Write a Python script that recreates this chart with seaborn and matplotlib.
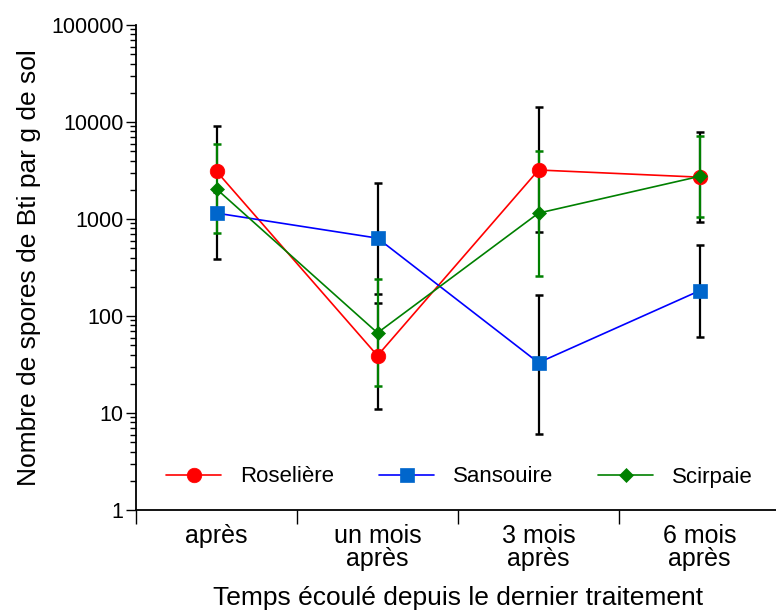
import numpy as np
import pandas as pd
import matplotlib
matplotlib.use("Agg")
import matplotlib.pyplot as plt
import seaborn as sns
from matplotlib.ticker import FixedLocator, NullFormatter, FuncFormatter

# ---- data ----
categories = ["après", "un mois\naprès", "3 mois\naprès", "6 mois\naprès"]
series_names = ["Roselière", "Sansouire", "Scirpaie"]

roseliere = [3100, 39, 3200, 2700]
sansouire = [1150, 635, 33, 182]
scirpaie = [2040, 67, 1150, 2750]

roseliere_low = [3100, 11, 730, 925]
roseliere_high = [9000, 135, 14400, 7950]
sansouire_low = [390, 167, 6.1, 61]
sansouire_high = [1900, 2370, 165, 540]
scirpaie_low = [720, 19, 258, 1060]
scirpaie_high = [5900, 239, 5020, 7230]

y_ticks = [1, 10, 100, 1000, 10000, 100000]

# ---- style ----
sns.set_style("ticks")
plt.rcParams["font.family"] = ["Liberation Sans", "DejaVu Sans"]
plt.rcParams["text.color"] = "black"
plt.rcParams["axes.labelcolor"] = "black"
plt.rcParams["xtick.color"] = "black"
plt.rcParams["ytick.color"] = "black"

fig = plt.figure(figsize=(7.76, 6.12), dpi=100)
ax = fig.add_axes([136 / 776, 1 - 510 / 612, 644 / 776, 485 / 612])

pos = np.arange(len(categories))
values = [roseliere, sansouire, scirpaie]
lows = [roseliere_low, sansouire_low, scirpaie_low]
highs = [roseliere_high, sansouire_high, scirpaie_high]
line_colors = ["#FF0000", "#0000FF", "#008000"]
face_colors = ["#FF0000", "#0066CC", "#008000"]
err_colors = ["black", "black", "#008000"]
markers = ["o", "s", "D"]
msizes = [10.5, 10.5, 7.3]

# error bars first
for v, lo, hi, ec in zip(values, lows, highs, err_colors):
    v = np.array(v, dtype=float)
    lo = np.array(lo, dtype=float)
    hi = np.array(hi, dtype=float)
    ax.errorbar(pos, v, yerr=[v - lo, hi - v], fmt="none", ecolor=ec,
                elinewidth=1.6, capsize=3.0, capthick=1.8, zorder=2)

handles = []
for name, v, lc, fc, mk, ms in zip(series_names, values, line_colors,
                                   face_colors, markers, msizes):
    df = pd.DataFrame({"pos": pos, "val": v})
    sns.lineplot(data=df, x="pos", y="val", ax=ax, color=lc, linewidth=1.2,
                 marker=mk, markersize=ms, markerfacecolor=fc,
                 markeredgecolor=fc, markeredgewidth=0.5, label=name,
                 legend=False, zorder=3)
    handles.append(ax.lines[-1])

# ---- axes ----
ax.set_yscale("log")
ax.set_ylim(1, 100000)
ax.set_xlim(-0.5, 3.5)
ax.yaxis.set_major_locator(FixedLocator(y_ticks))
ax.yaxis.set_major_formatter(FuncFormatter(lambda y, p: f"{int(round(y))}"))
minor = [m * 10 ** e for e in range(0, 5) for m in range(2, 10)]
ax.yaxis.set_minor_locator(FixedLocator(minor))
ax.yaxis.set_minor_formatter(NullFormatter())

ax.set_xticks([-0.5, 0.5, 1.5, 2.5])
ax.set_xticklabels([])
ax.set_xticks(pos, labels=categories, minor=True)
for lbl in ax.get_xticklabels(minor=True):
    lbl.set_linespacing(0.95)
    lbl.set_fontsize(18)
    lbl.set_color("black")

ax.tick_params(axis="x", which="major", length=10, width=1.0, direction="out",
               color="black")
ax.tick_params(axis="x", which="minor", length=0, pad=10)
ax.tick_params(axis="y", which="major", length=7, width=1.0, labelsize=15.5,
               color="black", labelcolor="black", pad=2)
ax.tick_params(axis="y", which="minor", length=4, width=1.0, color="black")

for s in ["top", "right"]:
    ax.spines[s].set_visible(False)
for s in ["left", "bottom"]:
    ax.spines[s].set_linewidth(1.3)
    ax.spines[s].set_color("black")

ax.set_xlabel("Temps écoulé depuis le dernier traitement", fontsize=19,
              labelpad=11, color="black")
ax.set_ylabel("Nombre de spores de Bti par g de sol", fontsize=19,
              labelpad=7, color="black")

leg = ax.legend(handles=handles, labels=series_names, ncol=3, frameon=False,
                fontsize=16, loc="center",
                bbox_to_anchor=(459.5 / 776, 1 - 477 / 612),
                bbox_transform=fig.transFigure, handlelength=2.5,
                handletextpad=0.85, columnspacing=2.0, borderpad=0)
for t in leg.get_texts():
    t.set_color("black")

fig.savefig("out.png", dpi=100)
